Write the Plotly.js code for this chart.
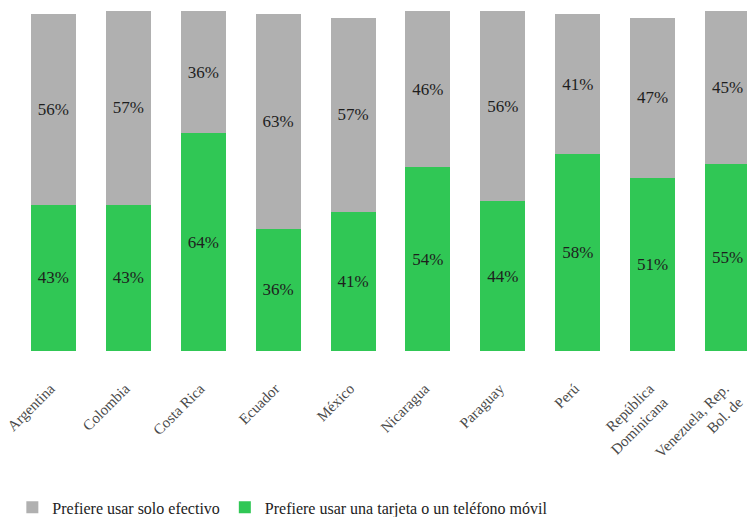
<!DOCTYPE html>
<html><head><meta charset="utf-8">
<script src="https://cdn.plot.ly/plotly-3.0.1.min.js"></script>
<style>html,body{margin:0;padding:0;background:#fff;overflow:hidden}</style>
</head><body>
<div style="width:747px;height:517px;overflow:hidden"><div id="chart" style="width:747px;height:530px"></div></div>
<script>
const countries = ["Argentina","Colombia","Costa Rica","Ecuador","México","Nicaragua","Paraguay","Perú","República<br>Dominicana","Venezuela, Rep.<br>Bol. de"];
const cardMobile = [43,43,64,36,41,54,44,58,51,55];
const cashOnly = [56,57,36,63,57,46,56,41,47,45];
const nameCash = "Prefiere usar solo efectivo";
const nameCard = "Prefiere usar una tarjeta o un teléfono móvil";

const serif = "Liberation Serif";
const pct = a => a.map(v => v + "%");
const common = {
  type: "bar", x: countries, width: 0.6,
  textposition: "inside", insidetextanchor: "middle", textangle: 0,
  textfont: {family: serif, size: 17, color: "#1e1e1e"},
  insidetextfont: {family: serif, size: 17, color: "#1e1e1e"},
  hoverinfo: "skip"
};
const traces = [
  Object.assign({}, common, {name: nameCard, y: cardMobile, text: pct(cardMobile), marker: {color: "#30c755"}}),
  Object.assign({}, common, {name: nameCash, y: cashOnly, text: pct(cashOnly), marker: {color: "#b0b0b0"}})
];
const layout = {
  width: 747, height: 530,
  margin: {l: 16, r: 0, t: 11, b: 179},
  barmode: "stack",
  paper_bgcolor: "#fff", plot_bgcolor: "#fff",
  showlegend: true,
  legend: {orientation: "h", traceorder: "reversed", x: -0.005, xanchor: "left", y: -0.51, yanchor: "bottom",
           font: {family: serif, size: 16, color: "#222"}},
  xaxis: {range: [-0.5, 9.26], tickangle: -45, showline: false, showgrid: false, zeroline: false,
          ticks: "outside", ticklen: 22, tickcolor: "rgba(0,0,0,0)", ticklabelshift: -3,
          tickfont: {family: serif, size: 15, color: "#4a4a4a"}, fixedrange: true, automargin: false},
  yaxis: {range: [0, 100], visible: false, showgrid: false, zeroline: false, fixedrange: true}
};
Plotly.newPlot("chart", traces, layout, {displayModeBar: false, staticPlot: true});
</script>
</body></html>
